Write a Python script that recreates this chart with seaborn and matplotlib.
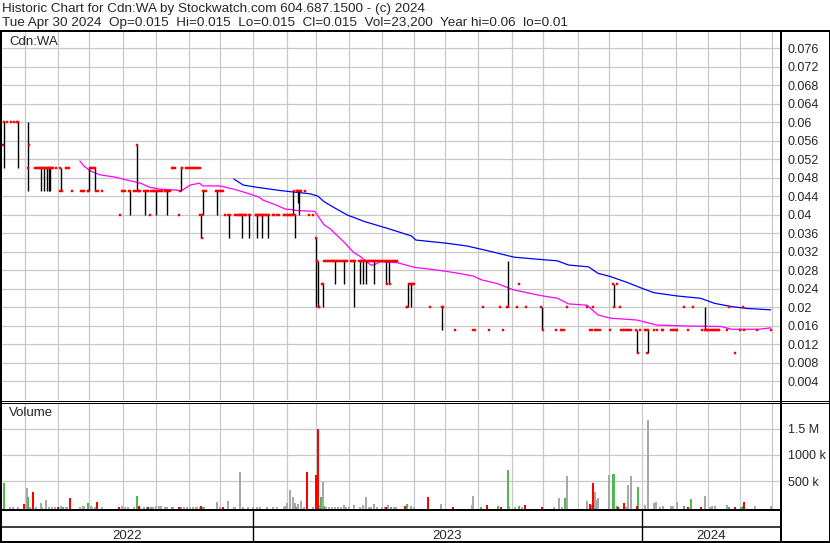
import matplotlib
matplotlib.use("Agg")
import matplotlib.pyplot as plt
from matplotlib.lines import Line2D
import seaborn as sns
import numpy as np
import pandas as pd

# x axis = trading session, counted from the first bar on the chart (late May 2022)
month_start = [15, 36, 56, 78, 99, 120, 140, 161, 183, 202, 223, 244, 265, 285,
               306, 328, 348, 370, 390, 411, 433, 454, 474, 495]
year_start = [161, 411]
year_labels = ["2022", "2023", "2024"]

# sessions that traded at a single price, grouped by price
trades_060 = [3, 6, 8]
trades_050 = [21, 22, 23, 24, 26, 28, 32, 33, 35, 41, 42, 43, 57, 58, 59, 109, 110, 111,
              116, 118, 119, 120, 121, 122, 123, 124, 125, 126, 127]
trades_045 = [37, 45, 51, 52, 53, 55, 62, 64, 77, 78, 79, 85, 86, 88, 89, 93, 94, 96, 97,
              98, 100, 101, 102, 103, 105, 107, 108, 130, 131, 139, 140, 141, 142, 192, 195]
trades_040 = [76, 95, 114, 143, 150, 151, 152, 153, 155, 156, 157, 163, 165, 166, 168, 169,
              170, 174, 175, 177, 178, 181, 182, 183, 184, 185, 186, 197, 200]
trades_030 = [207, 208, 209, 210, 211, 212, 213, 215, 216, 217, 218, 219, 221, 222, 224,
              225, 227, 231, 235, 236, 237, 238, 240, 241, 242, 243, 244, 245, 246, 248,
              250, 251, 252, 253, 254]
trades_025 = [262, 264, 265, 332, 395]
trades_020 = [204, 260, 275, 309, 320, 331, 337, 363, 376, 380, 397, 438, 444, 467, 476]
trades_015 = [291, 303, 304, 313, 322, 356, 359, 360, 361, 378, 379, 381, 382, 383, 384,
              391, 398, 399, 400, 401, 402, 403, 404, 410, 413, 414, 419, 421, 424, 425,
              430, 431, 432, 433, 434, 441, 450, 453, 454, 455, 456, 457, 458, 459, 460,
              461, 466, 474, 477, 485, 494]
trades_010 = [471]

# sessions with a price range
bar_day = [1, 10, 17, 25, 27, 29, 30, 31, 38, 56,
           60, 82, 87, 92, 99, 106, 115, 128, 129, 138,
           146, 154, 159, 164, 167, 171, 187, 188, 190, 191,
           202, 203, 206, 214, 220, 226, 230, 232, 234, 239,
           247, 249, 261, 263, 283, 325, 347, 393, 408, 415,
           452]
bar_open = [0.055, 0.06, 0.05, 0.05, 0.05, 0.05, 0.05, 0.05, 0.05, 0.045,
            0.05, 0.045, 0.055, 0.045, 0.045, 0.045, 0.045, 0.04, 0.04, 0.045,
            0.04, 0.04, 0.04, 0.04, 0.04, 0.04, 0.04, 0.04, 0.045, 0.045,
            0.035, 0.03, 0.025, 0.03, 0.03, 0.03, 0.03, 0.03, 0.03, 0.03,
            0.03, 0.03, 0.02, 0.025, 0.02, 0.02, 0.02, 0.025, 0.015, 0.01,
            0.015]
bar_high = [0.06, 0.06, 0.06, 0.05, 0.05, 0.05, 0.05, 0.05, 0.05, 0.05,
            0.05, 0.045, 0.055, 0.045, 0.045, 0.045, 0.05, 0.04, 0.045, 0.045,
            0.04, 0.04, 0.04, 0.04, 0.04, 0.04, 0.045, 0.04, 0.045, 0.045,
            0.035, 0.03, 0.025, 0.03, 0.03, 0.03, 0.03, 0.03, 0.03, 0.03,
            0.03, 0.03, 0.025, 0.025, 0.02, 0.03, 0.02, 0.025, 0.015, 0.015,
            0.02]
bar_low = [0.05, 0.05, 0.045, 0.045, 0.045, 0.045, 0.045, 0.045, 0.045, 0.045,
           0.045, 0.04, 0.045, 0.04, 0.04, 0.04, 0.045, 0.035, 0.04, 0.04,
           0.035, 0.035, 0.035, 0.035, 0.035, 0.035, 0.04, 0.035, 0.0425, 0.04,
           0.02, 0.02, 0.02, 0.025, 0.025, 0.02, 0.025, 0.025, 0.025, 0.025,
           0.025, 0.025, 0.02, 0.02, 0.015, 0.02, 0.015, 0.02, 0.01, 0.01,
           0.015]
bar_close = [0.06, 0.06, 0.055, 0.05, 0.05, 0.05, 0.05, 0.05, 0.045, 0.05,
             0.045, 0.045, 0.045, 0.045, 0.045, 0.045, 0.05, 0.035, 0.045, 0.045,
             0.04, 0.04, 0.04, 0.04, 0.04, 0.04, 0.045, 0.04, 0.045, 0.045,
             0.03, 0.02, 0.025, 0.03, 0.03, 0.03, 0.03, 0.03, 0.03, 0.03,
             0.025, 0.025, 0.025, 0.025, 0.02, 0.02, 0.015, 0.02, 0.01, 0.015,
             0.015]

# moving averages (magenta = short, blue = long)
ma_short_day = [50, 53, 57, 63, 73, 80, 89, 95, 102, 112, 115, 121, 127, 129, 140, 149,
                158, 165, 168, 176, 182, 186, 189, 201, 203, 207, 211, 220, 226, 230, 237,
                239, 243, 254, 265, 275, 286, 295, 303, 308, 318, 329, 346, 357, 364, 376,
                383, 391, 408, 421, 441, 462, 469, 486, 494]
ma_short_val = [0.0516, 0.0504, 0.0494, 0.0486, 0.0481, 0.0475, 0.0468, 0.0459, 0.0455,
                0.0453, 0.0451, 0.0464, 0.0468, 0.0462, 0.0462, 0.0455, 0.0446, 0.0438,
                0.0431, 0.0421, 0.0412, 0.0411, 0.0409, 0.0407, 0.0397, 0.0378, 0.0369,
                0.0340, 0.0318, 0.0310, 0.0291, 0.0291, 0.0298, 0.0296, 0.0286, 0.0282,
                0.0277, 0.0272, 0.0267, 0.0259, 0.0251, 0.0237, 0.0225, 0.0219, 0.0207,
                0.0204, 0.0183, 0.0176, 0.0172, 0.0161, 0.0159, 0.0158, 0.0152, 0.0152,
                0.0155]
ma_long_day = [149, 155, 164, 179, 198, 203, 207, 213, 222, 226, 233, 248, 263, 266, 286,
               299, 312, 329, 346, 357, 364, 377, 383, 391, 402, 411, 419, 434, 449, 458,
               469, 479, 494]
ma_long_val = [0.0477, 0.0464, 0.0459, 0.0452, 0.0445, 0.0440, 0.0428, 0.0416, 0.0399,
               0.0394, 0.0385, 0.0370, 0.0354, 0.0345, 0.0338, 0.0332, 0.0322, 0.0308,
               0.0303, 0.0300, 0.0291, 0.0287, 0.0273, 0.0266, 0.0253, 0.0241, 0.0231,
               0.0224, 0.0219, 0.0208, 0.0201, 0.0197, 0.0194]

# volume in thousands of shares, split by the colour of the day
up_day = [1, 17, 39, 55, 87, 96, 109, 115, 129, 189, 205, 207, 250, 260, 308, 319, 325,
          332, 362, 379, 393, 395, 409, 438, 443, 467, 475, 476]
up_vol = [470, 200, 5, 80, 220, 5, 5, 5, 5, 10, 200, 30, 5, 65, 5, 30, 715,
          30, 180, 45, 640, 30, 390, 30, 160, 5, 5, 30]
down_day = [14, 20, 36, 44, 61, 75, 88, 94, 114, 128, 142, 196, 202, 203, 247, 259, 274,
            290, 312, 321, 336, 347, 378, 380, 396, 400, 408, 441, 449, 471, 477]
down_vol = [65, 295, 5, 180, 105, 5, 25, 5, 5, 30, 5, 675, 620, 1495, 5, 30, 200,
            5, 45, 5, 45, 5, 65, 465, 10, 85, 30, 10, 5, 5, 105]
flat_day = [5, 7, 10, 16, 18, 22, 25, 26, 28, 30, 32, 34, 38, 41, 42, 50, 52, 53, 57, 58,
            60, 64, 77, 79, 81, 85, 89, 91, 93, 97, 99, 101, 102, 105, 106, 110, 117, 119,
            121, 123, 125, 127, 130, 138, 140, 145, 149, 150, 153, 155, 158, 161, 164, 166,
            170, 174, 177, 181, 182, 183, 185, 187, 188, 190, 192, 194, 200, 204, 206, 208,
            210, 212, 214, 216, 218, 220, 221, 223, 226, 230, 232, 234, 236, 237, 239, 241,
            244, 246, 248, 252, 253, 263, 265, 282, 302, 303, 326, 330, 334, 355, 358, 360,
            363, 376, 381, 382, 383, 390, 401, 402, 404, 413, 415, 419, 420, 423, 425, 430,
            431, 434, 452, 455, 456, 458, 466, 484, 494]
flat_vol = [10, 5, 5, 370, 5, 5, 85, 10, 140, 10, 5, 5, 30, 5, 5, 5, 20, 20, 20, 10,
            5, 10, 20, 10, 5, 5, 5, 5, 5, 5, 30, 30, 20, 10, 10, 5, 5, 5,
            5, 5, 5, 5, 5, 105, 5, 130, 5, 5, 675, 5, 10, 5, 5, 5,
            5, 5, 5, 10, 20, 85, 335, 200, 85, 70, 125, 5, 5, 40, 485, 5,
            5, 5, 10, 5, 5, 45, 5, 5, 45, 10, 45, 200, 10, 5, 65, 5,
            5, 5, 45, 5, 5, 30, 5, 65, 45, 220, 30, 5, 5, 5, 180, 5,
            600, 125, 295, 140, 180, 620, 5, 430, 600, 45, 1665, 85, 105, 10, 30, 30,
            30, 105, 220, 10, 30, 30, 45, 30, 23]

price_ticks = np.round(np.arange(1, 20) * 0.004, 3)
vol_ticks = [500, 1000, 1500]
vol_labels = ["500 k", "1000 k", "1.5 M"]

header1 = "Historic Chart for Cdn:WA by Stockwatch.com 604.687.1500 - (c) 2024"
header2 = ("Tue Apr 30 2024  Op=0.015  Hi=0.015  Lo=0.015  Cl=0.015  "
           "Vol=23,200  Year hi=0.06  lo=0.01")

# ---- build tables ----
levels = [(0.06, trades_060), (0.05, trades_050), (0.045, trades_045), (0.04, trades_040),
          (0.03, trades_030), (0.025, trades_025), (0.02, trades_020), (0.015, trades_015),
          (0.01, trades_010)]
ticks = pd.DataFrame([(d, p) for p, days in levels for d in days], columns=["day", "price"])
opens = pd.DataFrame({"day": np.array(bar_day) - 0.45, "price": bar_open})
closes = pd.DataFrame({"day": np.array(bar_day) + 0.45, "price": bar_close})
ticks = pd.concat([ticks, opens, closes], ignore_index=True)

ma_short = pd.DataFrame({"day": ma_short_day, "ma": ma_short_val})
ma_long = pd.DataFrame({"day": ma_long_day, "ma": ma_long_val})

# ---- figure ----
sns.set_style("white")
plt.rcParams["font.family"] = ["Liberation Sans", "DejaVu Sans"]

W, H = 830, 543
fig = plt.figure(figsize=(W / 100, H / 100), dpi=100)


def box(x0, y0, x1, y1):
    return [x0 / W, 1 - y1 / H, (x1 - x0) / W, (y1 - y0) / H]


def rule(x0, y0, x1, y1, px=1.0):
    fig.add_artist(Line2D([x0 / W, x1 / W], [1 - y0 / H, 1 - y1 / H],
                          transform=fig.transFigure, color="black", lw=px * 0.72))


GRID = "#c8c8c8"
XMAX = 500

ax_p = fig.add_axes(box(2, 32, 780, 400))
ax_v = fig.add_axes(box(2, 403, 780, 509))
ax_d = fig.add_axes(box(2, 510, 780, 541))

for ax in (ax_p, ax_v, ax_d):
    ax.set_xlim(0, XMAX)
    for s in ax.spines.values():
        s.set_visible(False)

# price panel
ax_p.set_ylim(-0.0001, 0.0795)
ax_p.set_xticks(month_start)
ax_p.set_yticks(price_ticks)
ax_p.set_yticklabels([f"{t:g}" for t in price_ticks])
ax_p.yaxis.tick_right()
ax_p.tick_params(axis="y", length=0, pad=5.5, labelsize=9)
ax_p.tick_params(axis="x", length=0, labelbottom=False)
ax_p.grid(True, color=GRID, lw=0.9)
ax_p.set_axisbelow(True)

sns.lineplot(data=ma_long, x="day", y="ma", color="#0000ff", lw=0.9, ax=ax_p, zorder=2)
sns.lineplot(data=ma_short, x="day", y="ma", color="#ff00ff", lw=0.9, ax=ax_p, zorder=2)
ax_p.vlines(bar_day, bar_low, bar_high, color="black", lw=1.0, zorder=3)
sns.scatterplot(data=ticks, x="day", y="price", marker="s", s=4.0, color="#ff0000",
                linewidth=0.3, edgecolor="#ff0000", ax=ax_p, zorder=4)
ax_p.set_xlabel("")
ax_p.set_ylabel("")
ax_p.set_xlim(0, XMAX)

# volume panel
VMIN = -29
ax_v.set_ylim(VMIN, 1990)
ax_v.set_xticks(month_start)
ax_v.set_yticks(vol_ticks)
ax_v.set_yticklabels(vol_labels)
ax_v.yaxis.tick_right()
ax_v.tick_params(axis="y", length=0, pad=5.5, labelsize=9)
ax_v.tick_params(axis="x", length=0, labelbottom=False)
ax_v.grid(True, color=GRID, lw=0.9)
ax_v.set_axisbelow(True)
for days, vols, col in ((flat_day, flat_vol, "#a8a8a8"),
                        (up_day, up_vol, "#50b850"),
                        (down_day, down_vol, "#ff0000")):
    ax_v.bar(days, np.array(vols) - VMIN, bottom=VMIN, width=1.3, color=col,
             linewidth=0, zorder=2)

# date band
ax_d.set_ylim(0, 2)
ax_d.set_xticks([])
ax_d.set_yticks([])
ax_d.vlines(year_start, 0, 2, color="black", lw=1.0)
edges = [0] + year_start + [XMAX]
for lab, a, b in zip(year_labels, edges[:-1], edges[1:]):
    ax_d.text((a + b) / 2, 0.32, lab, ha="center", va="center", fontsize=9.5)

# frame rules
rule(0, 31, W, 31, 2)
rule(1, 31, 1, H, 2)
rule(781, 31, 781, H, 2)
rule(828.5, 31, 828.5, H, 1)
rule(0, 400.5, W, 400.5, 1)
rule(0, 402.5, W, 402.5, 1)
rule(0, 509.5, 781, 509.5, 2)
rule(0, 526.5, 781, 526.5, 1.5)
rule(0, 541.5, W, 541.5, 2)

# texts
fig.text(2 / W, 1 - 9 / H, header1, ha="left", va="center", fontsize=9.7)
fig.text(2 / W, 1 - 23 / H, header2, ha="left", va="center", fontsize=9.7)
fig.text(9 / W, 1 - 42 / H, "Cdn:WA", ha="left", va="center", fontsize=9.5)
fig.text(9 / W, 1 - 413 / H, "Volume", ha="left", va="center", fontsize=9.5)

fig.savefig("out.png", dpi=100)
